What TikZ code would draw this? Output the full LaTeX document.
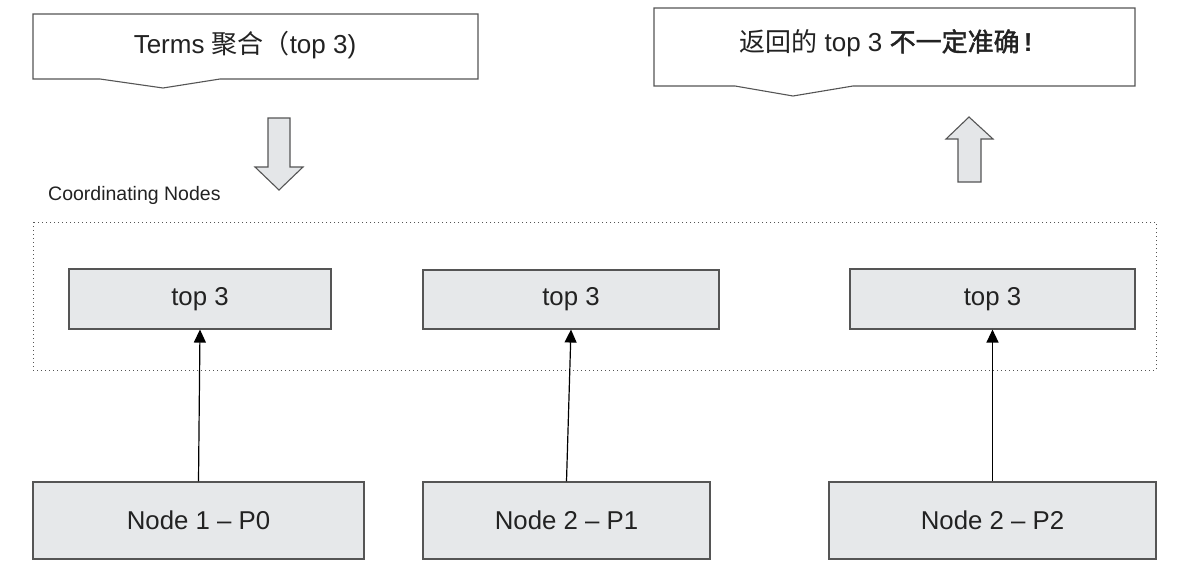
\documentclass[tikz,border=0pt]{standalone}
\usepackage{fontspec}
\setmainfont{Liberation Sans}
\newfontfamily\cjk{Noto Sans CJK SC}
\newfontfamily\cjkb[FakeBold=1.6]{Noto Sans CJK SC}
\usetikzlibrary{arrows.meta}
\definecolor{boxfill}{HTML}{E6E8EA}
\definecolor{boxline}{HTML}{555555}
\definecolor{txt}{HTML}{222222}
\definecolor{bigarrow}{HTML}{E4E6E8}
\tikzset{
  graybox/.style={draw=boxline, fill=boxfill, line width=1.1pt, inner sep=0pt,
    font=\fontsize{25.8}{30}\selectfont, text=txt},
  callout/.style={draw=boxline, fill=white, line width=1.1pt, line join=miter},
  calltext/.style={inner sep=0pt, font=\fontsize{26}{30}\selectfont, text=txt},
  fatarrow/.style={draw=boxline, fill=bigarrow, line width=1.1pt},
  link/.style={draw=black, line width=1.2pt, -{Triangle[length=13pt,width=12pt]}},
  groupbox/.style={draw=boxline, line width=1pt, dash pattern=on 1pt off 3pt}
}
\begin{document}
\begin{tikzpicture}[x=1pt,y=-1pt]
\useasboundingbox[fill=white] (0,0) rectangle (1179,584);

% callouts
\draw[callout] (33,14) -- (478,14) -- (478,79) -- (220,79) -- (163,88) -- (100,79) -- (33,79) -- cycle;
\node[calltext] (q) at (245,45) {Terms \cjk 聚合（\rmfamily top 3)};
\draw[callout] (654,8) -- (1135,8) -- (1135,86) -- (853,86) -- (793,96) -- (735,86) -- (654,86) -- cycle;
\node[calltext] (r) at (886,43) {{\cjk 返回的} top 3 {\cjkb 不一定准确}\,\textbf{!}};

% fat arrows
\draw[fatarrow] (268,118) -- (290,118) -- (290,167) -- (303,167) -- (279,190) -- (255,167) -- (268,167) -- cycle;
\draw[fatarrow] (969,117) -- (993,139) -- (981,139) -- (981,182) -- (958,182) -- (958,139) -- (946,139) -- cycle;

% coordinating group
\draw[groupbox] (33,222) rectangle (1156,370);
\node[anchor=west, inner sep=0pt, font=\fontsize{19.5}{22}\selectfont, text=txt] (cn) at (48,195) {Coordinating Nodes};

% top 3 boxes
\node[graybox, minimum width=262pt, minimum height=60pt] (t1) at (200,299) {top 3};
\node[graybox, minimum width=296pt, minimum height=59pt] (t2) at (571,299.5) {top 3};
\node[graybox, minimum width=285pt, minimum height=60pt] (t3) at (992.5,299) {top 3};

% data nodes
\node[graybox, minimum width=331pt, minimum height=77pt] (n1) at (198.5,520.5) {Node 1 – P0};
\node[graybox, minimum width=287pt, minimum height=77pt] (n2) at (566.5,520.5) {Node 2 – P1};
\node[graybox, minimum width=327pt, minimum height=77pt] (n3) at (992.5,520.5) {Node 2 – P2};

% links
\draw[link] (n1.north) -- (t1.south);
\draw[link] (n2.north) -- (t2.south);
\draw[link] (n3.north) -- (t3.south);
\end{tikzpicture}
\end{document}
